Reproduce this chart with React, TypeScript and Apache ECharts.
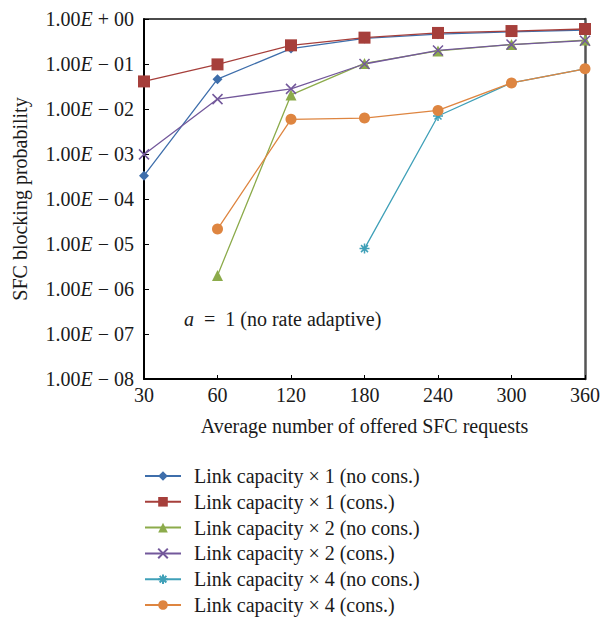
import React, { useEffect, useRef } from "react";
import * as echarts from "echarts";

const categories = ["30", "60", "120", "180", "240", "300", "360"];
const yExponents = [0, -1, -2, -3, -4, -5, -6, -7, -8];

const cap1NoCons = [3.3e-4, 0.046, 0.22, 0.37, 0.46, 0.52, 0.57];
const cap1Cons = [0.041, 0.098, 0.26, 0.385, 0.49, 0.54, 0.6];
const cap2NoCons = [null, 2.0e-6, 0.0205, 0.103, 0.195, 0.27, 0.34];
const cap2Cons = [9.8e-4, 0.0166, 0.028, 0.1, 0.2, 0.27, 0.33];
const cap4NoCons = [null, null, null, 7.9e-6, 0.007, 0.038, 0.078];
const cap4Cons = [null, 2.15e-5, 0.0059, 0.0063, 0.0093, 0.038, 0.078];

const seriesNames = [
  "Link capacity × 1 (no cons.)",
  "Link capacity × 1 (cons.)",
  "Link capacity × 2 (no cons.)",
  "Link capacity × 2 (cons.)",
  "Link capacity × 4 (no cons.)",
  "Link capacity × 4 (cons.)",
];

const FONT = "'Liberation Serif', 'DejaVu Serif', serif";
const FS = 20;

export default function App() {
  const ref = useRef<HTMLDivElement>(null);
  useEffect(() => {
    if (!ref.current) return;
    const chart = echarts.init(ref.current, undefined, { renderer: "svg" });
    const mk = (
      name: string,
      data: (number | null)[],
      color: string,
      symbol: string,
      size: number,
      stroke = false
    ) => ({
      name,
      type: "line",
      data: data.map((v) => (v === null ? "-" : v)),
      xAxisIndex: 0,
      yAxisIndex: 0,
      symbol,
      symbolSize: size,
      showAllSymbol: true,
      lineStyle: { color, width: 1.3 },
      itemStyle: stroke
        ? { color: "rgba(0,0,0,0)", borderColor: color, borderWidth: 1.5 }
        : { color, borderWidth: 0 },
      emphasis: { disabled: true },
    });
    const labelFmt = (v: number) => {
      const e = Math.round(Math.log10(v));
      if (!yExponents.includes(e)) return "";
      const sign = e < 0 ? "−" : "+";
      const mag = String(Math.abs(e)).padStart(2, "0");
      return `{n|1.00}{e|E}{n| ${sign} ${mag}}`;
    };
    chart.setOption({
      animation: false,
      backgroundColor: "#fff",
      textStyle: { fontFamily: FONT },
      grid: { left: 144, right: 14, top: 19, bottom: 243, containLabel: false },
      legend: {
        orient: "vertical",
        left: 144,
        top: 466,
        height: 200,
        itemWidth: 36,
        itemHeight: 12,
        itemGap: 5.8,
        padding: 0,
        textStyle: {
          fontFamily: FONT,
          fontSize: FS,
          color: "#1a1a1a",
          lineHeight: 20,
          padding: [0, 0, 0, 8],
        },
        data: seriesNames,
      },
      xAxis: [
        {
          type: "category",
          data: categories,
          boundaryGap: false,
          position: "bottom",
          axisLine: { lineStyle: { color: "#000", width: 2 } },
          axisTick: { inside: true, length: 4, lineStyle: { color: "#000", width: 1 } },
          axisLabel: { fontFamily: FONT, fontSize: FS, color: "#1a1a1a", margin: 6 },
          splitLine: { show: false },
          name: "Average number of offered SFC requests",
          nameLocation: "middle",
          nameGap: 37,
          nameTextStyle: { fontFamily: FONT, fontSize: FS, color: "#1a1a1a" },
        },
        {
          type: "category",
          data: categories,
          boundaryGap: false,
          position: "top",
          axisLine: { lineStyle: { color: "#111", width: 1.5 } },
          axisTick: { show: false },
          axisLabel: { show: false },
        },
      ],
      yAxis: [
        {
          type: "log",
          logBase: 10,
          min: 1e-8,
          max: 1,
          position: "left",
          axisLine: { show: true, lineStyle: { color: "#000", width: 2 } },
          axisTick: { show: true, inside: true, length: 5, lineStyle: { color: "#000", width: 1 } },
          minorTick: { show: false },
          splitLine: { show: false },
          axisLabel: {
            margin: 10,
            formatter: labelFmt,
            rich: {
              n: { fontFamily: FONT, fontSize: FS, color: "#1a1a1a" },
              e: { fontFamily: FONT, fontSize: FS, color: "#1a1a1a", fontStyle: "italic" },
            },
          },
          name: "SFC blocking probability",
          nameLocation: "middle",
          nameGap: 114,
          nameTextStyle: { fontFamily: FONT, fontSize: FS, color: "#1a1a1a" },
        },
        {
          type: "log",
          logBase: 10,
          min: 1e-8,
          max: 1,
          position: "right",
          axisLine: { show: true, lineStyle: { color: "#555", width: 2.5 } },
          axisTick: { show: false },
          axisLabel: { show: false },
          splitLine: { show: false },
        },
      ],
      graphic: [
        {
          type: "text",
          left: 184,
          top: 309,
          style: {
            text: "{i|a}{n|  =  1 (no rate adaptive)}",
            rich: {
              i: { fontFamily: FONT, fontSize: FS, fontStyle: "italic", fill: "#1a1a1a" },
              n: { fontFamily: FONT, fontSize: FS, fill: "#1a1a1a" },
            },
          },
        },
      ],
      series: [
        mk(seriesNames[0], cap1NoCons, "#3E6EAB", "diamond", 10),
        mk(seriesNames[1], cap1Cons, "#A63F3B", "rect", 12),
        mk(seriesNames[2], cap2NoCons, "#8CAB4B", "triangle", 11),
        mk(seriesNames[3], cap2Cons, "#73589B", "path://M0,0L10,10M10,0L0,10", 10, true),
        mk(
          seriesNames[4],
          cap4NoCons,
          "#3FA0B8",
          "path://M0,5L10,5M5,0L5,10M1.5,1.5L8.5,8.5M8.5,1.5L1.5,8.5",
          10,
          true
        ),
        mk(seriesNames[5], cap4Cons, "#DE8540", "circle", 11),
      ],
    });
    return () => chart.dispose();
  }, []);
  return (
    <div
      ref={ref}
      style={{ position: "fixed", left: 0, top: 0, width: 603, height: 622, background: "#fff" }}
    />
  );
}
